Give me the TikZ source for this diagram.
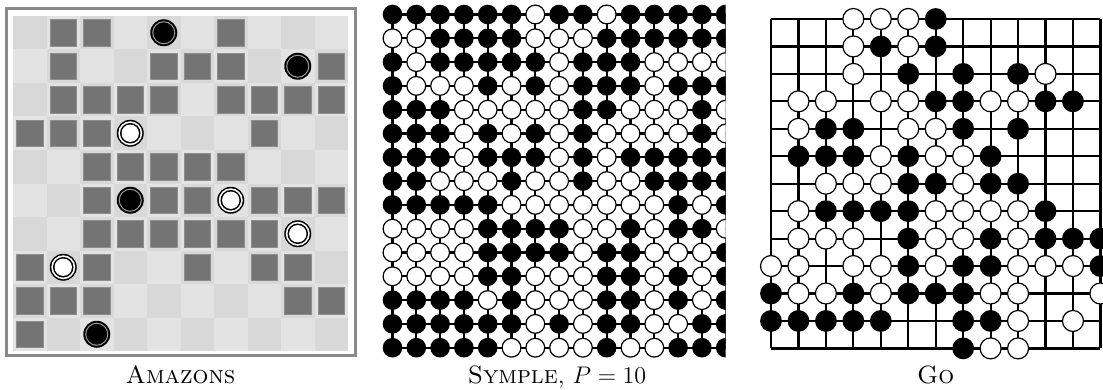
\documentclass[tikz,border=0pt]{standalone}
\usepackage{tikz}
\definecolor{AMLight}    {HTML}{E3E3E3}
\definecolor{AMDark}     {HTML}{D8D8D8}
\definecolor{AMBlock}    {HTML}{747474}
\definecolor{AMBlockEdge}{HTML}{8E8E8E}
\definecolor{AMFrame}    {HTML}{8A8A8A}
\definecolor{AMRing}     {HTML}{9A9A9A}
\tikzset{
  boardline/.style={line width=1.1pt},
  goline/.style={line width=1.1pt},
  bstone/.style={fill=black},
  wstone/.style={fill=white,draw=black,line width=0.6pt},
  blocked/.style={fill=AMBlock,draw=AMBlockEdge,line width=0.4pt},
  caption/.style={font=\fontsize{12.5}{14}\selectfont,anchor=base}
}

\begin{document}
\begin{tikzpicture}[x=0.5pt,y=-0.5pt]
  \useasboundingbox (0,0) rectangle (1103,390);

  % Amazons
  \draw[AMFrame,line width=1.5pt] (6.5,8.5) rectangle (355.5,355.5);
  \fill[AMLight] (13,16) rectangle (348,351);
  \foreach \i in {0,...,9}
    \foreach \j in {0,...,4}
      \fill[AMDark] ({13+33.5*(2*\j+mod(\i,2))},{16+33.5*\i}) rectangle +(33.5,33.5);
  \foreach \c/\r in {2/1,3/1,7/1, 2/2,5/2,6/2,7/2,10/2,
      2/3,3/3,4/3,5/3,7/3,8/3,9/3,10/3, 1/4,2/4,3/4,8/4,
      3/5,4/5,5/5,6/5,7/5, 3/6,5/6,6/6,8/6,9/6,10/6,
      3/7,4/7,5/7,6/7,7/7,8/7, 1/8,3/8,6/8,8/8,9/8,
      1/9,2/9,3/9,9/9,10/9, 1/10}
    \filldraw[blocked] ({13+33.5*(\c-1)+3.5},{16+33.5*(\r-1)+3.5}) rectangle +(26.5,26.5);
  \foreach \c/\r in {5/1,9/2,4/6,3/10} {
    \fill[black] ({13+33.5*(\c-0.5)},{16+33.5*(\r-0.5)}) circle (13.5);
    \draw[AMRing,line width=0.5pt] ({13+33.5*(\c-0.5)},{16+33.5*(\r-0.5)}) circle (11);
  }
  \foreach \c/\r in {4/4,7/6,9/7,2/8} {
    \fill[black] ({13+33.5*(\c-0.5)},{16+33.5*(\r-0.5)}) circle (13.5);
    \fill[white] ({13+33.5*(\c-0.5)},{16+33.5*(\r-0.5)}) circle (12);
    \fill[black] ({13+33.5*(\c-0.5)},{16+33.5*(\r-0.5)}) circle (10.3);
    \fill[white] ({13+33.5*(\c-0.5)},{16+33.5*(\r-0.5)}) circle (8.7);
  }
  \node[caption] (amlabel) at (180.5,383) {\textsc{Amazons}};

  % Symple
  \begin{scope}
    \clip (375,0) rectangle (725.5,360);
    \foreach \k in {0,...,14} {
      \draw[boardline] ({392.5+23.8*\k},14.5) -- ({392.5+23.8*\k},347.7);
      \draw[boardline] (392.5,{14.5+23.8*\k}) -- (725.7,{14.5+23.8*\k});
    }
    \foreach \line [count=\r from 0] in {
        {1,1,1,1,1,1,0,1,1,0,1,1,1,1,1},
        {0,0,1,1,1,1,0,0,0,1,1,1,1,1,1},
        {1,0,1,1,1,1,1,0,1,1,1,0,0,0,0},
        {1,0,0,0,1,0,1,0,1,1,1,0,1,1,1},
        {1,1,1,0,0,0,0,0,1,1,0,0,0,1,0},
        {1,1,1,0,1,0,1,0,1,0,0,0,0,1,0},
        {1,1,1,0,1,1,1,0,1,0,1,1,1,1,1},
        {1,1,0,0,0,1,0,0,1,0,0,1,1,1,1},
        {1,1,1,1,1,0,0,0,0,0,0,0,1,0,1},
        {0,0,0,0,1,1,1,1,0,0,1,0,1,1,0},
        {0,0,0,0,1,1,1,1,0,1,1,0,0,0,1},
        {0,0,0,0,1,1,0,0,0,1,1,0,1,0,1},
        {1,1,1,1,0,1,0,0,0,1,1,0,1,0,1},
        {1,1,1,1,1,1,0,1,0,1,1,0,0,1,1},
        {1,1,1,1,1,0,0,0,0,1,0,0,1,1,1}}{
      \foreach \s [count=\c from 0] in \line {
        \ifnum\s=1
          \fill[bstone] ({392.5+23.8*\c},{14.5+23.8*\r}) circle (9.8);
        \else
          \filldraw[wstone] ({392.5+23.8*\c},{14.5+23.8*\r}) circle (9.4);
        \fi
      }
    }
  \end{scope}
  \node[caption] (symlabel) at (557,383) {\textsc{Symple}, $P=10$};

  % Go
  \foreach \k in {0,...,12} {
    \draw[goline] ({771+27.45*\k},19) -- ({771+27.45*\k},348.4);
    \draw[goline] (771,{19+27.45*\k}) -- (1100.4,{19+27.45*\k});
  }
  \foreach \c/\r in {6/0, 4/1,6/1, 5/2,7/2,9/2, 6/3,7/3,10/3,11/3,
      2/4,3/4,7/4,9/4, 1/5,2/5,3/5,5/5,8/5, 5/6,6/6,8/6,9/6,
      2/7,3/7,4/7,5/7,10/7, 5/8,8/8,10/8,11/8,12/8, 5/9,7/9,8/9,12/9,
      0/10,3/10,5/10,6/10,7/10, 0/11,1/11,2/11,3/11,4/11,7/11,8/11, 7/12}
    \fill[bstone] ({771+27.45*\c},{19+27.45*\r}) circle (10.9);
  \foreach \c/\r in {3/0,4/0,5/0, 3/1,5/1, 3/2,10/2, 1/3,2/3,4/3,5/3,8/3,9/3,
      1/4,5/4,6/4, 4/5,6/5,7/5, 2/6,3/6,4/6,7/6, 1/7,6/7,7/7,8/7,9/7,
      1/8,2/8,3/8,6/8,7/8,9/8, 0/9,1/9,3/9,4/9,6/9,9/9,10/9,11/9,
      1/10,2/10,4/10,8/10,9/10,12/10, 9/11,11/11, 8/12,9/12}
    \filldraw[wstone] ({771+27.45*\c},{19+27.45*\r}) circle (10.5);
  \node[caption] (golabel) at (935.7,383) {\textsc{Go}};
\end{tikzpicture}
\end{document}
